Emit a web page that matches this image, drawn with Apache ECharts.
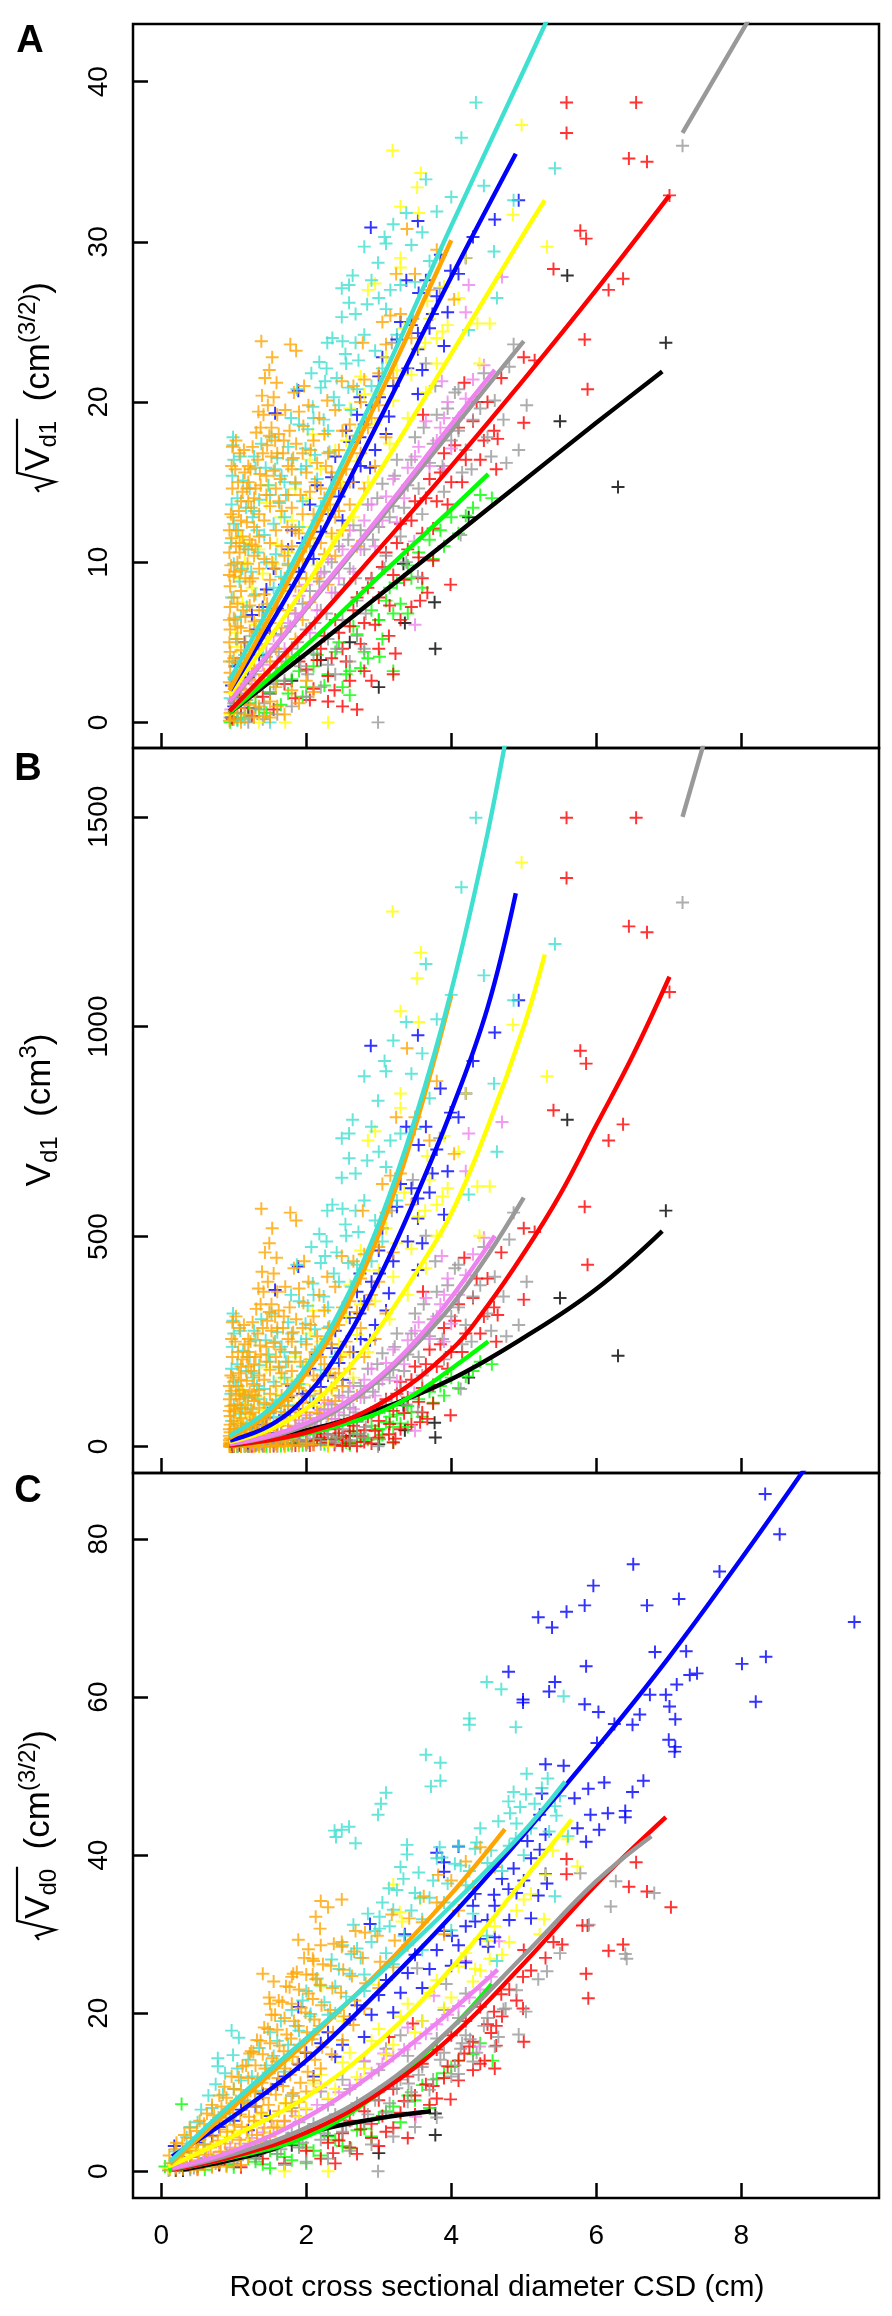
<!DOCTYPE html>
<html><head><meta charset="utf-8">
<script src="https://cdn.jsdelivr.net/npm/echarts@6/dist/echarts.min.js"></script>
<style>html,body{margin:0;padding:0;background:#fff}#c{width:892px;height:2316px}</style>
</head><body><div id="c"></div>
<script>
// ---------- tick labels ----------
const xTicks = [0, 2, 4, 6, 8];
const yTicksA = [0, 10, 20, 30, 40];
const yTicksB = [0, 500, 1000, 1500];
const yTicksC = [0, 20, 40, 60, 80];
const panelLetters = ['A', 'B', 'C'];
const xTitle = 'Root cross sectional diameter CSD (cm)';

const colors = {black:'#000000', green:'#00FF00', red:'#FF0000', gray:'#999999', gray2:'#999999',
  violet:'#EE82EE', blue:'#0000FF', yellow:'#FFFF00', turquoise:'#40E0D0', orange:'#FFA500'};

// ---------- Panel A points: [CSD, sqrt(Vd1)]  (panel B shows the same points as Vd1) ----------
const aOrange = [[1.38,23.8],[1.78,23.6],[1.86,23.2],[1.53,22.8],[1.49,22.0],[1.59,21.2],[2.78,23.7],[2.80,21.4],[2.49,21.3],[3.39,30.8],[3.24,28.0],[3.16,25.4],[4.04,26.4],[2.29,20.1],[1.47,19.8],[1.60,19.2],[1.49,17.9],[1.96,18.5],[1.82,16.5],[1.60,16.8],[1.37,14.8],[1.08,10.6],
[0.95,0.6],[0.95,1.9],[0.95,3.1],[0.95,4.4],[0.95,5.8],[0.95,7.2],[0.95,8.5],
[1.0,0.2],[1.0,1.4],[1.0,2.8],[1.0,4.0],[1.0,6.5],[1.0,7.8],[1.0,9.1],
[1.05,0.9],[1.05,2.4],[1.05,3.7],[1.05,5.2],[1.05,6.0],[1.05,7.4],[1.05,10.0],
[1.1,0.0],[1.1,1.6],[1.1,3.2],[1.1,4.5],[1.1,5.9],[1.1,8.2],[1.1,9.5],
[1.16,0.5],[1.16,2.0],[1.16,3.6],[1.16,5.0],[1.16,6.6],[1.16,9.0],[1.16,10.8],
[1.22,1.1],[1.22,2.7],[1.22,4.2],[1.22,5.7],[1.22,7.3],[1.22,8.8],[1.22,11.4],
[1.28,0.3],[1.28,1.9],[1.28,3.4],[1.28,6.3],[1.28,7.9],[1.28,10.4],[1.28,12.2],
[1.35,1.0],[1.35,2.6],[1.35,4.8],[1.35,7.0],[1.35,9.6],[1.35,11.6],[1.35,13.0],
[1.42,0.4],[1.42,3.0],[1.42,5.6],[1.42,8.0],[1.42,10.2],[1.42,12.6],
[1.5,1.3],[1.5,3.8],[1.5,6.2],[1.5,8.9],[1.5,11.2],[1.5,13.5],
[1.58,2.2],[1.58,4.6],[1.58,9.6],[1.58,12.0],[1.58,14.6],
[1.66,3.4],[1.66,5.9],[1.66,8.2],[1.66,11.0],[1.66,13.2],
[1.75,4.1],[1.75,7.0],[1.75,9.8],[1.75,14.2],[1.75,16.0],
[1.85,5.2],[1.85,8.5],[1.85,12.0],[1.85,15.0],
[1.95,6.4],[1.95,10.2],[1.95,13.0],[1.95,16.8],
[2.05,7.5],[2.05,11.5],[2.05,14.4],[2.15,9.0],[2.15,12.6],[2.15,16.2],
[2.25,10.5],[2.25,14.0],[2.25,18.0],[2.35,11.8],[2.35,15.6],[2.45,13.2],[2.45,17.0],
[2.6,15.0],[2.6,18.6],[2.75,16.8],[2.75,20.0],[2.9,19.0],[3.0,21.8],[3.1,23.6],[3.3,25.5],[3.5,28.0],[3.7,27.0],[3.8,29.5],
[1.02,9.4],[1.08,11.2],[1.12,11.6],[1.18,12.5],[1.24,13.4],[1.3,14.6],[1.36,15.5],[1.4,16.8],[1.46,17.3],[1.52,18.4],[1.25,11.1],
[0.96,9.8],[0.97,11.5],[0.99,12.8],[1.03,12.0],[1.07,13.2],[1.12,14.4],[1.15,15.6],[1.2,16.0],[1.26,17.2],[1.31,18.1],[1.34,19.4],[1.39,20.4],[1.43,21.5],[1.55,20.3],[1.62,18.0],[1.68,16.8],[1.71,19.5],[1.77,18.2],[1.83,20.6],[1.9,19.4],[1.97,21.0],[2.03,19.8],[2.1,17.6],[2.18,19.0],[2.3,16.8],[2.4,19.5],[2.5,18.2],[2.55,15.8],[2.65,21.0],[2.7,17.9],[2.85,18.4],[3.0,19.8],[3.05,25.0],[3.2,21.5],[3.45,24.0],[1.1,12.6],[1.2,13.8],[1.3,11.0],[1.45,14.2],[1.55,15.7],[1.62,13.8],[1.7,10.4],[1.8,13.4],[1.9,11.8],[2.0,9.0],[2.1,13.0],[2.2,11.2],[2.3,8.6],[2.4,10.4],[2.5,12.0],[2.6,13.6],[2.7,11.0],[2.8,14.6],[2.95,16.0],[3.1,17.8],[1.5,0.3],[1.6,1.0],[1.7,0.5],[1.8,2.0],[1.9,1.2],[2.0,2.6],[2.1,1.9],[1.2,15.0],[1.02,15.8],[1.08,16.8],[0.98,14.6],[0.96,13.0],
[0.94,0.1],[0.94,2.5],[0.94,3.8],[0.94,5.0],[0.94,6.4],[0.94,9.2],[0.94,10.6],[0.94,12.0],[0.97,16.0],[0.98,17.2],[1.03,17.6],[1.06,15.0],[1.1,13.8],[1.14,17.0],[1.18,14.6],[1.23,15.8],[1.28,14.0],[1.33,16.4],[1.37,18.4],[1.41,19.2],[1.45,15.4],[1.52,16.6],[1.57,17.6],[1.64,15.2],[1.69,17.6],[1.74,12.2],[1.8,15.8],[1.86,17.4],[1.92,14.2],[2.0,15.6],[2.06,17.0],[2.12,15.0],[2.2,14.6],[2.27,16.0],[2.33,13.6],[2.4,12.8],[2.47,14.6],[1.03,11.0],[1.13,7.0],[1.19,9.9],[1.26,9.0],[1.32,5.6],[1.39,6.4],[1.46,7.4],[1.53,10.0],[1.6,7.0],[1.7,9.0],[1.8,11.0],[1.9,9.0],[2.0,11.0]];

const aTurquoise = [[4.34,38.7],[4.14,36.5],[5.43,34.6],[4.86,32.6],[3.65,33.9],[3.20,31.1],[3.08,30.3],[3.10,29.9],[2.80,29.7],[2.99,28.7],[2.90,27.6],[4.59,29.4],[2.49,27.1],[2.59,27.3],[2.59,26.2],[2.49,25.3],[2.68,25.5],[4.63,26.5],[4.24,24.5],[2.29,23.7],[2.68,23.7],[2.54,23.0],[2.28,22.1],[2.26,21.3],[2.38,20.3],[2.09,19.7],[1.79,19.0],[0.99,17.8],[0.99,17.3],[1.09,16.6],[2.30,18.2],[1.57,15.8],[1.70,15.0],[1.28,13.2],[1.50,14.2],[1.99,17.1],[1.32,12.0],[0.97,7.8],[1.08,8.8],[1.50,0.0],[2.62,19.5],[3.05,22.1],
[0.95,1.5],[0.98,3.8],[1.03,5.2],[1.1,6.6],[1.0,9.9],[1.12,9.6],[1.2,10.8],[1.26,12.8],[1.3,8.0],[1.35,13.9],[1.42,11.7],[1.48,14.8],[1.55,12.4],[1.6,16.5],[1.66,15.4],[1.75,17.2],[1.85,14.9],[1.9,18.6],[2.0,16.0],[2.1,19.0],[2.2,20.9],[2.32,16.9],[2.45,19.8],[2.55,22.4],[2.7,20.8],[2.8,24.2],[2.95,23.2],[3.1,25.8],[3.3,27.3],[3.45,29.8],[3.6,30.6],[1.05,0.1],[1.15,0.2],[1.4,4.3],[1.65,9.1],[1.0,12.4],[1.05,14.0],[1.14,11.0],[1.22,14.6],[1.3,15.9],[1.18,7.2],[1.45,10.0],[1.7,12.8],[1.95,13.8],[2.15,15.2],
[0.96,11.2],[0.97,13.6],[0.98,15.4],[1.0,16.4],[1.02,6.4],[1.04,3.0],[1.06,12.0],[1.13,15.1],[1.17,13.4],[1.24,9.4],[1.28,16.6],[1.33,10.6],[1.38,17.4],[1.44,15.9],[1.52,17.8],[1.58,10.5],[1.63,13.7],[1.72,14.2],[1.8,16.4],[1.87,20.8],[1.93,15.8],[2.02,18.3],[2.07,21.8],[2.12,16.7],[2.18,22.5],[2.24,18.9],[2.36,24.0],[2.42,21.5],[2.5,23.8],[2.58,20.9],[2.64,27.9],[2.72,22.6],[2.84,26.1],[2.9,21.0],[3.0,26.5],[3.16,27.0],[3.25,24.2],[3.38,31.8],[3.5,27.5],[3.7,28.8],[3.8,31.9],[4.0,32.8],[4.45,33.5],[1.15,4.2],[1.25,5.4],[1.4,7.0],[1.55,8.4],[1.75,9.9],[1.9,12.2],[2.05,11.0],[2.2,13.5],[2.4,14.6]];

const aYellow = [[4.97,37.3],[3.19,35.7],[3.58,34.3],[3.53,33.4],[3.30,32.2],[3.55,31.8],[4.85,31.7],[5.32,29.7],[3.30,29.0],[3.30,28.4],[2.95,27.4],[2.85,27.0],[3.67,26.3],[3.88,24.4],[3.80,24.0],[4.36,24.9],[4.53,24.9],[4.39,22.4],[3.64,23.7],[2.75,21.6],[2.09,18.0],[1.47,14.8],[1.45,13.7],[1.09,11.6],[1.14,11.2],[1.71,0.0],[2.30,0.0],
[0.95,0.5],[1.0,2.3],[1.05,4.7],[1.12,7.5],[1.2,3.6],[1.3,6.1],[1.4,9.3],[1.5,7.0],[1.6,11.1],[1.7,8.4],[1.8,12.6],[1.9,10.1],[2.0,14.0],[2.1,11.5],[2.2,15.8],[2.3,13.2],[2.4,17.0],[2.5,14.8],[2.6,19.6],[2.7,16.3],[2.8,20.5],[2.95,18.6],[3.1,22.8],[3.2,20.1],[3.35,24.6],[3.45,21.7],[3.7,25.2],[3.9,27.2],[4.1,26.5],[4.2,29.0],[1.35,0.0],
[1.02,5.6],[1.08,9.0],[1.15,10.0],[1.25,8.4],[1.35,10.8],[1.45,5.4],[1.55,9.9],[1.65,12.8],[1.75,10.6],[1.85,14.6],[1.95,12.2],[2.05,16.4],[2.15,9.8],[2.25,18.0],[2.35,11.6],[2.45,15.6],[2.55,17.6],[2.65,12.8],[2.75,18.4],[2.85,15.0],[3.0,20.5],[3.15,17.4],[3.25,22.0],[3.4,19.0],[3.55,23.4],[3.65,20.6],[3.8,22.4],[3.95,24.8]];

const aBlue = [[2.89,30.9],[3.54,31.3],[3.38,27.6],[3.99,28.2],[3.74,25.5],[3.54,24.3],[3.90,23.5],[3.54,23.3],[4.93,32.6],[1.89,20.7],[2.74,20.3],[3.01,20.3],[3.54,20.5],[1.57,19.3],[3.14,19.1],[2.88,15.9],[2.55,18.2],[2.74,17.8],
[0.97,2.3],[1.02,3.5],[1.08,1.6],[1.15,5.0],[1.25,6.7],[1.35,4.2],[1.45,8.3],[1.6,7.1],[1.75,10.8],[1.9,9.4],[2.05,13.6],[2.2,11.9],[2.35,15.3],[2.45,14.1],[2.6,17.5],[2.75,16.0],[2.9,19.8],[3.0,21.6],[3.1,18.0],[3.25,23.9],[3.4,22.1],[3.55,26.8],[3.7,24.6],[3.85,29.2],[4.1,28.0],[4.3,30.3],[4.6,31.4],
[1.0,1.0],[1.1,4.0],[1.2,2.8],[1.3,5.8],[1.4,7.2],[1.5,5.6],[1.55,9.6],[1.7,8.6],[1.8,12.0],[1.95,11.2],[2.1,10.2],[2.15,14.8],[2.3,13.0],[2.4,16.6],[2.5,12.6],[2.65,15.0],[2.7,19.2],[2.8,18.6],[2.95,17.0],[3.05,22.8],[3.2,21.0],[3.3,25.0],[3.45,24.8],[3.6,22.0],[3.65,27.6],[3.8,26.6],[3.95,25.6],[4.2,29.0]];

const aViolet = [[4.24,27.3],[4.70,27.8],[4.20,25.6],[3.90,19.0],[3.90,15.8],[3.49,11.3],[3.50,6.1],[3.87,21.3],
[0.96,0.8],[1.05,2.0],[1.15,1.1],[1.3,3.2],[1.45,4.9],[1.6,3.8],[1.75,6.2],[1.9,7.9],[2.05,5.6],[2.2,9.3],[2.35,8.1],[2.5,10.8],[2.65,9.4],[2.8,12.6],[2.95,11.0],[3.1,14.1],[3.25,12.5],[3.4,15.9],[3.55,17.2],[3.7,16.0],[3.85,18.4],[4.0,17.1],[4.2,20.2],[4.45,22.3],
[1.1,1.8],[1.25,2.4],[1.4,3.6],[1.55,5.4],[1.7,4.6],[1.85,6.8],[2.0,8.6],[2.15,7.0],[2.3,10.2],[2.45,9.0],[2.6,12.0],[2.75,10.8],[2.9,13.6],[3.05,12.6],[3.2,15.2],[3.35,14.0],[3.5,16.6],[3.65,18.8],[3.8,17.6],[3.95,20.0],[4.1,19.0],[4.3,21.4]];

const aGray = [[4.86,23.6],[5.04,19.8],[4.72,18.9],[4.93,17.0],[4.76,16.2],[3.84,27.1],[3.47,25.2],[3.18,23.7],[3.65,22.4],[4.10,20.8],[3.78,21.0],[4.28,15.8],[4.13,11.7],[3.54,9.1],[3.38,10.0],[2.99,0.0],
[0.95,0.3],[1.0,1.2],[1.05,0.6],[1.1,2.1],[1.18,1.4],[1.25,3.0],[1.3,0.9],[1.38,2.5],[1.45,4.1],[1.5,1.8],[1.58,3.4],[1.65,5.5],[1.7,2.6],[1.8,4.6],[1.85,6.8],[1.92,3.5],[2.0,5.8],[2.05,8.2],[2.1,4.3],[2.2,7.0],[2.25,9.4],[2.3,5.2],[2.4,8.1],[2.45,11.0],[2.5,6.4],[2.6,9.6],[2.65,12.3],[2.7,7.6],[2.8,10.8],[2.85,13.6],[2.9,8.9],[3.0,12.2],[3.05,14.9],[3.1,10.4],[3.2,13.5],[3.25,16.4],[3.3,11.6],[3.4,14.8],[3.5,17.8],[3.6,13.0],[3.7,16.2],[3.8,19.2],[3.9,14.4],[4.0,17.6],[4.05,20.6],[4.15,15.6],[4.3,18.9],[4.45,21.8],[4.55,16.6],[4.6,20.1],[4.8,22.2],
[1.2,0.0],[1.4,0.2],[1.6,0.5],[1.8,1.0],[2.0,1.6],[2.2,2.2],[2.4,3.0],[2.6,3.8],[2.8,4.6],[1.5,2.9],[1.9,4.0],[2.3,3.6],[2.7,5.4],
[1.05,1.8],[1.15,2.6],[1.22,0.4],[1.32,2.0],[1.42,1.2],[1.55,2.4],[1.62,4.4],[1.72,3.8],[1.78,6.0],[1.88,5.0],[1.95,7.4],[2.02,3.0],[2.12,6.2],[2.18,8.8],[2.28,6.8],[2.35,10.0],[2.42,4.6],[2.52,8.6],[2.58,11.4],[2.68,9.0],[2.75,12.0],[2.82,6.8],[2.92,11.4],[2.98,14.0],[3.08,9.6],[3.15,12.8],[3.22,15.4],[3.35,13.4],[3.45,16.4],[3.55,14.6],[3.62,18.4],[3.75,17.4],[3.88,16.0],[3.95,19.6],[4.1,18.2],[4.2,17.0],[4.4,19.6],[4.5,17.8]];

const aGray2 = [[7.19,36.0]];

const aRed = [[5.59,38.7],[6.55,38.7],[5.59,36.8],[6.45,35.2],[6.70,35.0],[7.01,32.9],[5.78,30.7],[5.86,30.2],[5.41,28.3],[6.17,27.0],[6.37,27.7],[5.84,23.9],[5.00,22.8],[5.15,22.6],[5.88,20.8],[4.69,21.5],[5.00,18.7],[4.59,18.2],[4.64,17.7],[4.62,15.8],[4.18,21.2],[3.61,19.2],[3.99,8.6],[3.75,10.1],[3.67,8.1],[3.57,7.6],[3.23,4.3],[3.14,5.4],[2.39,2.0],
[0.98,0.2],[1.1,0.9],[1.25,0.4],[1.4,1.6],[1.55,0.8],[1.7,2.4],[1.85,1.5],[2.0,3.3],[2.1,2.1],[2.2,4.6],[2.3,2.9],[2.45,5.6],[2.55,3.8],[2.65,7.0],[2.75,4.9],[2.85,8.4],[2.95,6.1],[3.05,9.7],[3.15,7.3],[3.25,11.2],[3.35,8.9],[3.45,12.6],[3.55,10.3],[3.65,14.0],[3.75,12.1],[3.85,15.6],[3.95,13.6],[4.05,17.3],[4.15,15.0],[4.3,18.8],[4.4,16.4],[4.5,20.0],[2.3,1.3],[2.5,1.0],[2.6,2.6],[2.7,0.8],
[1.9,3.8],[2.05,1.4],[2.15,3.9],[2.25,5.4],[2.35,4.0],[2.4,6.4],[2.5,4.6],[2.6,6.0],[2.7,7.8],[2.8,6.2],[2.9,9.0],[3.0,7.8],[3.1,10.6],[3.2,9.2],[3.3,12.4],[3.4,10.8],[3.5,13.8],[3.6,11.8],[3.7,15.2],[3.8,13.8],[3.9,16.8],[4.0,15.0],[4.1,18.4],[4.2,16.4],[4.35,20.0],[4.45,17.6],[3.2,3.0],[3.0,4.6],[2.9,2.6],[2.8,3.2],[3.3,6.4],[3.45,7.2],[3.6,9.0]];

const aGreen = [[4.56,14.0],[3.20,3.2],[3.01,4.1],[3.20,6.8],[3.40,6.8],[3.00,6.4],[2.80,4.4],[2.60,3.2],[2.60,1.7],
[0.95,0.0],[1.0,0.6],[1.1,0.3],[1.2,1.2],[1.35,0.8],[1.5,1.9],[1.65,1.1],[1.8,2.7],[1.95,1.6],[2.1,3.5],[2.25,2.3],[2.4,4.4],[2.55,3.0],[2.7,5.5],[2.85,4.0],[3.0,6.4],[3.1,7.6],[3.25,8.7],[3.4,9.8],[3.55,10.6],[3.7,11.4],[3.85,12.0],[4.0,12.8],[4.3,13.4],
[1.05,0.2],[1.15,0.9],[1.3,1.6],[1.45,0.6],[1.6,2.6],[1.75,1.8],[1.9,3.2],[2.0,2.2],[2.15,4.2],[2.3,3.0],[2.45,5.0],[2.5,2.2],[2.65,6.0],[2.75,3.4],[2.9,7.0],[3.05,5.2],[3.15,8.4],[3.3,7.4],[3.45,9.0],[3.6,8.4],[3.75,10.2],[3.9,11.0],[4.1,11.8],[4.2,12.9],[4.4,14.2]];

const aBlack = [[5.60,27.9],[6.96,23.7],[5.50,18.8],[6.30,14.7],[4.24,12.8],[3.77,7.5],[3.36,6.2],[3.78,4.6],[3.00,2.2],[3.34,9.9],[0.97,0.3],[1.2,0.9],[1.5,1.8],[1.8,2.6],[2.2,3.9],[2.6,5.0]];

// ---------- Panel A fitted curves ----------
const aLineTurquoise = [[0.94,2.6],[2,11.6],[3,21],[4,31],[5,40.7],[5.5,45.6]];
const aLineOrange = [[0.94,2.0],[2,11],[3,20.3],[4,30.1]];
const aLineBlue = [[0.95,2.0],[2,10],[3,18.8],[4,27.8],[4.89,35.5]];
const aLineYellow = [[0.94,1.7],[2,8.6],[3,15.6],[4,23],[5,30.5],[5.29,32.6]];
const aLineViolet = [[0.94,1.3],[2,7.2],[3,12.8],[4,18.6],[4.6,22]];
const aLineGray = [[0.94,1.2],[2,7.1],[3,12.6],[4,18.2],[5,23.8]];
const aLineGray2 = [[7.19,36.8],[8.25,45.0]];
const aLineRed = [[0.94,0.7],[2,5.7],[3,10.8],[4,16],[5,21.4],[6,27],[7.01,32.9]];
const aLineGreen = [[0.94,0.6],[2,4.8],[3,9.1],[4,13.3],[4.51,15.5]];
const aLineBlack = [[0.94,0.6],[2,4.3],[3,7.9],[4,11.5],[5,15.1],[6,18.7],[6.91,21.9]];

// ---------- Panel B fitted curves (Vd1) ----------
const bLineTurquoise = [[0.94,25],[1.5,90],[2,190],[2.5,335],[3,530],[3.5,780],[4,1085],[4.5,1460],[4.85,1780]];
const bLineOrange = [[0.94,20],[1.5,80],[2,175],[2.5,315],[3,505],[3.5,760],[4,1075]];
const bLineBlue = [[0.95,14],[1.5,50],[2,120],[2.5,240],[3,400],[3.5,590],[4,800],[4.5,1045],[4.89,1318]];
const bLineYellow = [[0.94,10],[1.5,40],[2,90],[2.5,170],[3,280],[3.5,410],[4,555],[4.5,760],[5,1000],[5.29,1172]];
const bLineViolet = [[0.94,6],[1.5,25],[2,55],[2.5,100],[3,165],[3.5,250],[4,355],[4.6,502]];
const bLineGray = [[0.94,5],[1.5,23],[2,50],[2.5,95],[3,158],[3.5,240],[4,335],[4.5,455],[5,593]];
const bLineGray2 = [[7.19,1500],[7.55,1715]];
const bLineRed = [[0.94,2],[2,33],[3,100],[4,230],[4.5,335],[5,460],[5.5,600],[6,765],[6.5,930],[7.01,1119]];
const bLineGreen = [[0.94,1],[2,30],[2.5,52],[3,80],[3.5,125],[4,185],[4.51,250]];
const bLineBlack = [[0.94,2],[2,38],[3,88],[4,160],[5,259],[6,375],[6.91,513]];

// ---------- Panel C points: [CSD, sqrt(Vd0)] ----------
const cOrange = [[2.20,34.2],[2.30,33.4],[2.49,34.4],[2.13,32.2],[2.19,30.7],[2.68,30.4],[1.89,29.3],[2.03,28.1],[2.09,26.9],[2.49,29.0],[1.40,25.0],[1.55,24.0],[1.80,24.6],[2.09,24.9],[1.50,21.2],[1.24,15.2],
[0.12,0.2],[0.13,1.0],[0.11,2.0],[0.2,0.4],[0.22,1.5],[0.19,2.8],[0.21,3.6],
[0.3,0.3],[0.28,1.2],[0.31,2.4],[0.29,3.5],[0.32,4.6],[0.4,0.6],[0.42,1.8],[0.38,3.0],[0.41,4.2],[0.39,5.5],
[0.5,0.2],[0.52,1.4],[0.48,2.6],[0.51,3.9],[0.49,5.1],[0.53,6.4],[0.6,0.8],[0.62,2.1],[0.58,3.4],[0.61,4.7],[0.59,6.0],[0.63,7.3],
[0.7,0.5],[0.72,1.7],[0.68,3.0],[0.71,4.4],[0.69,5.8],[0.73,7.1],[0.7,8.4],
[0.8,1.1],[0.82,2.5],[0.78,3.9],[0.81,5.3],[0.79,6.8],[0.83,8.2],[0.8,9.6],
[0.9,0.6],[0.92,2.0],[0.88,3.5],[0.91,5.0],[0.89,6.4],[0.93,7.9],[0.9,9.3],[0.87,10.7],
[1.0,1.3],[1.02,2.8],[0.98,4.3],[1.01,5.9],[0.99,7.4],[1.03,8.9],[1.0,10.4],[0.97,12.0],
[1.1,0.8],[1.12,2.4],[1.08,4.0],[1.11,5.6],[1.09,7.2],[1.13,8.8],[1.1,10.3],[1.07,11.9],[1.12,13.3],
[1.2,1.8],[1.22,3.5],[1.18,5.2],[1.21,6.9],[1.19,8.6],[1.23,10.2],[1.2,11.8],[1.17,13.4],[1.22,14.9],
[1.3,2.8],[1.32,4.6],[1.28,6.4],[1.31,8.2],[1.29,10.0],[1.33,11.7],[1.3,13.4],[1.27,15.1],[1.32,16.6],
[1.4,3.6],[1.42,5.5],[1.38,7.4],[1.41,9.3],[1.39,11.2],[1.43,13.0],[1.4,14.8],[1.37,16.5],[1.42,18.2],
[1.5,4.4],[1.52,6.4],[1.48,8.4],[1.51,10.4],[1.49,12.4],[1.53,14.3],[1.5,16.2],[1.47,18.0],[1.52,19.8],[1.49,22.0],
[1.6,5.5],[1.62,7.6],[1.58,9.7],[1.61,11.8],[1.59,13.9],[1.63,15.9],[1.6,17.9],[1.57,19.8],[1.62,21.6],
[1.7,6.4],[1.72,8.6],[1.68,10.8],[1.71,13.0],[1.69,15.2],[1.73,17.3],[1.7,19.4],[1.67,21.4],[1.72,23.4],
[1.8,7.6],[1.82,9.9],[1.78,12.2],[1.81,14.5],[1.79,16.8],[1.83,19.0],[1.8,21.2],[1.77,23.3],[1.82,25.0],
[1.9,8.8],[1.92,11.2],[1.88,13.6],[1.91,16.0],[1.89,18.4],[1.93,20.7],[1.9,23.0],[1.87,25.2],
[2.0,10.1],[2.02,12.6],[1.98,15.1],[2.01,17.6],[1.99,20.1],[2.03,22.5],[2.0,24.9],[1.97,27.0],
[2.1,11.5],[2.12,14.1],[2.08,16.7],[2.11,19.2],[2.09,21.8],[2.13,24.3],[2.1,26.6],
[2.2,13.0],[2.22,15.7],[2.18,18.4],[2.21,21.0],[2.19,23.6],[2.23,26.2],[2.2,28.6],
[2.35,14.8],[2.37,17.6],[2.33,20.4],[2.36,23.2],[2.34,26.0],[2.38,28.8],
[2.5,16.6],[2.52,19.6],[2.48,22.6],[2.51,25.5],[2.49,28.4],[2.65,18.5],[2.67,21.6],[2.63,24.7],[2.66,27.8],
[2.8,20.6],[2.82,23.8],[2.78,27.0],[2.81,30.2],[3.0,23.2],[3.02,26.5],[2.98,29.8],[3.2,25.8],[3.22,29.2],[3.18,32.5],
[3.4,28.6],[3.42,32.0],[3.6,31.5],[3.62,34.8],[3.8,34.0],[3.82,37.5],[4.0,36.8],[4.2,39.2],[4.4,41.0],[4.6,38.5],[4.1,33.0],[3.9,30.0],[4.3,36.0]];

const cTurquoise = [[4.49,61.9],[4.69,61.0],[5.55,60.1],[4.25,57.3],[4.25,56.5],[4.89,56.2],[3.65,52.7],[3.85,51.7],[3.85,49.4],[3.72,48.7],[3.10,47.9],[3.03,46.5],[2.99,45.1],[2.59,43.6],[2.49,43.2],[2.39,43.1],[2.41,42.3],[2.68,41.5],[5.04,50.3],[5.33,49.7],[4.86,48.0],[5.03,47.7],[4.79,46.8],[4.81,45.3],[5.43,46.2],[5.61,42.4],[5.43,34.8],[4.89,42.1],[3.39,41.3],[3.39,40.1],[3.84,41.0],[3.87,39.7],[4.13,38.7],[4.33,40.8],[3.34,37.0],[3.14,35.8],[3.57,34.6],[3.01,32.2],[3.01,30.7],[0.97,17.8],[1.07,16.9],[0.78,14.3],[0.78,13.3],[0.99,14.7],[2.06,19.9],[4.49,29.8],[4.63,26.6],[2.62,27.5],
[0.12,1.0],[0.2,2.5],[0.35,4.3],[0.5,6.2],[0.6,3.4],[0.7,8.0],[0.85,9.7],[0.95,6.8],[1.1,11.5],[1.2,14.1],[1.3,10.2],[1.45,13.4],[1.6,16.5],[1.7,12.6],[1.85,18.4],[1.95,21.6],[2.1,17.3],[2.2,23.5],[2.3,19.8],[2.45,25.6],[2.55,22.1],[2.7,28.2],[2.8,24.9],[2.95,30.4],[3.1,27.6],[3.2,33.1],[3.35,29.8],[3.5,35.2],[3.6,31.9],[3.75,36.8],[3.9,34.0],[4.05,38.9],[4.2,36.2],[4.35,41.6],[4.5,39.0],[4.65,44.3],[4.8,41.2],[4.95,46.1],[5.1,43.4],[5.25,48.5],[5.45,45.0],
[0.4,5.6],[0.55,7.8],[0.65,9.6],[0.75,11.0],[0.88,12.4],[1.0,10.4],[1.05,13.0],[1.15,9.0],[1.25,12.0],[1.35,15.6],[1.4,11.8],[1.5,17.6],[1.55,14.6],[1.65,19.0],[1.75,16.0],[1.8,20.4],[1.9,17.8],[2.0,22.8],[2.05,19.6],[2.15,24.4],[2.25,21.4],[2.35,26.8],[2.4,23.4],[2.5,28.6],[2.6,25.0],[2.65,31.2],[2.75,27.0],[2.85,32.6],[2.9,29.0],[3.05,34.0],[3.15,31.0],[3.25,35.6],[3.3,38.5],[3.45,33.0],[3.55,37.8],[3.7,34.6],[3.8,39.6],[3.95,36.4],[4.1,41.2],[4.25,38.0],[4.4,43.4],[4.55,40.6],[4.7,38.0],[4.9,44.0],[5.0,40.0],[5.15,46.5],[5.35,43.0],[5.5,47.5],[4.3,32.6],[4.0,30.5],[3.6,28.0],[3.2,26.2],[2.8,22.8],[2.4,20.0]];

const cBlue = [[8.33,85.7],[8.53,80.6],[9.56,69.5],[6.51,76.8],[7.70,75.9],[5.96,74.1],[5.84,71.6],[5.59,70.8],[5.20,70.1],[5.39,68.8],[6.70,71.6],[7.14,72.4],[6.81,65.7],[7.24,65.8],[8.01,64.2],[8.34,65.1],[8.20,59.4],[4.79,63.2],[5.86,63.9],[5.43,61.9],[5.35,60.7],[4.99,59.7],[4.99,59.3],[5.84,59.1],[6.03,58.1],[6.74,60.3],[6.96,60.3],[7.11,61.6],[7.01,58.8],[7.09,57.2],[7.29,62.8],[7.39,63.0],[6.60,57.8],[6.25,56.6],[6.50,56.5],[6.01,54.2],[7.00,54.6],[7.09,53.7],[7.08,53.1],[5.30,51.5],[5.55,51.3],[6.65,49.4],[6.50,48.0],[6.11,49.2],[5.89,48.4],[5.70,47.2],[5.25,47.8],[5.92,45.1],[6.16,45.3],[6.40,45.6],[6.40,44.8],[6.04,43.2],[5.86,41.7],[5.74,43.4],[5.22,45.1],[5.05,41.8],[5.22,40.7],[5.30,37.6],[5.32,36.4],[4.86,38.3],[4.79,35.7],[4.10,41.1],[3.80,40.3],[3.90,39.1],[3.90,37.9],[4.33,35.1],[4.59,35.0],[4.33,31.6],[4.01,29.8],[2.88,31.3],[3.36,30.0],[1.89,20.8],[4.51,28.4],
[0.18,3.2],[0.4,1.8],[0.7,4.5],[1.0,6.4],[1.3,8.2],[1.6,11.0],[1.9,13.5],[2.2,16.2],[2.4,14.5],[2.6,19.2],[2.8,17.0],[3.0,22.3],[3.2,20.1],[3.4,25.1],[3.6,23.2],[3.8,28.0],[4.0,26.0],[4.2,31.0],[4.4,29.4],[4.6,33.6],[4.8,31.8],[5.0,36.8],[5.2,34.9],
[0.3,2.4],[0.5,3.6],[0.8,5.6],[1.1,7.8],[1.2,5.2],[1.4,9.8],[1.5,7.0],[1.7,12.0],[1.8,9.6],[2.0,15.0],[2.1,12.0],[2.3,17.6],[2.5,16.0],[2.7,21.0],[2.9,19.8],[3.1,24.2],[3.3,22.6],[3.5,27.4],[3.7,25.6],[3.9,30.4],[4.1,28.6],[4.3,33.6],[4.5,31.8],[4.7,37.0],[4.9,35.2],[5.1,39.6],[5.3,42.6],[5.1,32.0],[4.6,29.6],[4.2,26.4]];

const cYellow = [[3.20,36.3],[3.57,34.5],[3.29,32.8],[3.32,31.6],[5.28,31.9],[5.22,30.0],[5.74,38.6],[4.53,26.9],[4.33,25.6],[1.70,0.0],[2.30,0.0],[2.21,23.4],
[0.1,0.4],[0.3,1.5],[0.5,2.8],[0.7,1.2],[0.9,4.4],[1.1,3.0],[1.3,6.3],[1.5,4.8],[1.7,8.6],[1.9,6.9],[2.1,11.1],[2.3,9.2],[2.5,13.8],[2.7,11.9],[2.9,16.5],[3.1,14.8],[3.3,19.6],[3.5,17.6],[3.7,22.6],[3.9,20.7],[4.1,25.9],[4.3,24.0],[4.5,29.2],[4.7,27.4],[4.9,33.0],[5.1,35.1],[5.4,40.6],
[0.2,1.0],[0.4,2.2],[0.6,3.4],[0.8,2.0],[1.0,5.2],[1.2,4.0],[1.4,7.2],[1.6,5.8],[1.8,9.6],[2.0,8.0],[2.2,12.2],[2.4,10.4],[2.6,15.0],[2.8,13.0],[3.0,18.0],[3.2,16.0],[3.4,21.2],[3.6,19.0],[3.8,24.2],[4.0,22.0],[4.2,27.6],[4.4,25.4],[4.6,31.0],[4.8,29.0],[5.0,34.4],[5.3,37.5],[5.6,42.0],[2.5,19.0],[3.0,23.6],[1.7,14.0]];

const cViolet = [[4.66,29.1],[4.20,26.6],[4.39,15.8],[3.51,6.9],[3.76,22.2],[3.07,14.9],
[0.2,0.5],[0.5,1.2],[0.8,2.4],[1.1,3.5],[1.4,4.9],[1.7,6.3],[2.0,7.8],[2.3,9.1],[2.6,10.9],[2.9,12.4],[3.2,14.6],[3.5,16.2],[3.8,18.6],[4.1,20.9],[4.4,23.0],
[0.35,0.9],[0.65,1.8],[0.95,3.0],[1.25,4.2],[1.55,5.6],[1.85,7.0],[2.15,8.4],[2.45,10.0],[2.75,11.6],[3.05,13.6],[3.35,15.4],[3.65,17.4],[3.95,19.8],[4.25,22.0],[4.55,24.6],[2.2,10.6],[2.8,14.0],[3.4,18.2]];

const cGray = [[6.80,35.2],[6.40,27.5],[6.42,26.9],[5.78,37.7],[6.27,36.7],[5.32,25.3],[5.03,20.2],[4.93,17.3],[4.72,20.5],[4.26,16.7],[4.13,15.5],[4.10,12.3],[3.93,23.7],[3.53,25.7],[3.41,11.1],[2.99,0.0],
[0.1,0.1],[0.25,0.5],[0.4,0.2],[0.55,1.0],[0.7,0.6],[0.85,1.6],[1.0,1.0],[1.15,2.4],[1.3,1.6],[1.45,3.2],[1.6,2.2],[1.75,4.2],[1.9,3.0],[2.05,5.3],[2.2,4.0],[2.35,6.5],[2.5,5.0],[2.65,7.8],[2.8,6.1],[2.95,9.0],[3.1,7.4],[3.25,10.5],[3.4,8.8],[3.55,12.2],[3.7,10.3],[3.85,14.1],[4.0,12.0],[4.15,16.2],[4.3,13.9],[4.45,18.4],[4.6,15.8],[4.75,20.6],[4.9,22.9],[5.2,24.3],[5.5,27.6],[5.9,31.2],[6.2,33.5],
[1.8,8.0],[2.2,10.1],[2.5,11.6],[2.8,13.9],[3.1,15.5],[3.3,17.2],[3.6,19.0],[3.9,20.4],[4.2,22.5],
[0.3,1.0],[0.45,0.4],[0.6,1.6],[0.75,1.0],[0.9,2.2],[1.05,1.4],[1.2,3.0],[1.35,2.2],[1.5,3.8],[1.65,2.8],[1.8,4.8],[1.95,3.6],[2.1,6.0],[2.25,4.8],[2.4,7.2],[2.55,5.8],[2.7,8.6],[2.85,7.2],[3.0,10.0],[3.15,8.6],[3.3,11.6],[3.45,10.0],[3.6,13.2],[3.75,11.6],[3.9,15.0],[4.05,13.4],[4.2,17.2],[4.35,15.0],[4.5,19.4],[4.65,17.0],[2.6,2.6],[2.9,3.4],[3.2,4.4],[3.5,5.6],[3.8,6.8],[2.3,1.6],[2.0,1.2],[1.7,0.8],[3.0,12.8],[3.4,14.6],[3.8,16.8],[4.1,19.4],[2.6,10.4],[2.3,8.4],[1.9,6.2]];

const cRed = [[6.55,39.1],[6.45,36.0],[6.70,35.4],[7.03,33.4],[5.59,39.5],[5.59,37.6],[5.41,29.0],[5.53,28.7],[5.81,31.1],[5.88,31.1],[6.17,27.9],[6.37,28.7],[5.86,25.0],[5.89,21.9],[5.00,28.0],[4.99,24.6],[4.99,20.6],[4.69,22.4],[4.59,20.2],[4.62,18.4],[4.62,15.9],[4.46,14.0],[4.30,12.8],[4.18,14.9],[3.99,9.1],[3.75,10.8],[3.47,18.7],[2.37,2.3],[3.14,17.0],
[0.2,0.1],[0.5,0.3],[0.8,0.9],[1.1,0.5],[1.4,1.6],[1.7,1.0],[2.0,2.6],[2.2,1.6],[2.45,3.9],[2.6,3.0],[2.75,5.3],[2.9,4.2],[3.05,7.0],[3.2,5.5],[3.35,8.9],[3.5,7.2],[3.65,11.0],[3.8,9.2],[3.95,13.3],[4.1,11.5],[4.25,15.8],[4.4,13.6],[4.55,17.5],
[2.3,3.6],[2.5,4.8],[2.6,6.4],[2.8,7.6],[2.9,6.0],[3.0,9.0],[3.1,5.0],[3.2,10.4],[3.3,7.4],[3.4,12.0],[3.5,9.6],[3.6,13.6],[3.7,8.4],[3.8,15.4],[3.9,11.8],[4.0,17.2],[4.1,14.0],[4.2,19.0],[4.3,16.4],[4.4,20.8],[4.5,18.6],[4.7,19.6],[4.8,23.0],[4.9,21.6],[5.1,25.4],[5.3,27.0],[5.0,16.4],[4.6,13.0],[3.4,4.2],[3.0,3.2],[2.7,2.2],[2.4,1.0]];

const cGreen = [[0.05,0.6],[0.2,0.1],[0.28,8.5],[0.4,0.4],[0.6,0.2],[0.8,1.0],[1.0,0.5],[1.2,1.6],[1.4,0.9],[1.6,2.2],[1.8,1.4],[2.0,3.0],[2.2,2.0],[2.4,4.0],[2.62,2.9],[2.8,5.4],[3.0,6.8],[3.2,8.2],[3.4,9.6],[3.6,10.9],[3.8,11.7],[4.0,13.2],[4.3,14.8],[4.57,14.0],
[0.3,0.8],[0.5,0.6],[0.7,1.4],[0.9,0.8],[1.1,2.0],[1.3,1.2],[1.5,2.6],[1.7,1.8],[1.9,3.4],[2.1,2.6],[2.3,4.4],[2.5,3.2],[2.7,5.2],[2.9,4.4],[3.1,7.6],[3.3,6.2],[3.5,9.0],[3.7,8.0],[3.9,12.4],[4.1,14.0],[4.4,16.2],[2.0,1.0],[1.5,0.4]];

const cBlack = [[0.3,0.1],[0.8,0.8],[1.3,1.9],[1.8,3.3],[2.3,4.5],[3.0,2.3],[3.78,7.3],[3.78,4.6]];

// ---------- Panel C fitted curves ----------
const cLineBlue = [[0.15,1.9],[1,7.0],[2,14.0],[3,22.8],[4,32.3],[5,42.6],[6,53.5],[7,65.0],[8,77.5],[8.84,88.4],[9.0,90.6]];
const cLineTurquoise = [[0.12,1.2],[1,8.8],[2,16.8],[3,24.9],[4,33.6],[5,43.0],[5.57,49.3]];
const cLineOrange = [[0.12,0.9],[1,8.2],[2,16.4],[3,25.2],[4,35.1],[4.74,43.3]];
const cLineYellow = [[0.1,0.6],[1,4.5],[2,9.4],[3,16.4],[4,25.7],[5,36.9],[5.66,44.5]];
const cLineViolet = [[0.15,0.4],[1,2.6],[2,6.8],[3,12.9],[4,20.3],[4.64,25.5]];
const cLineGray = [[0.15,0.3],[1,2.2],[2,5.5],[3,10.5],[4,18.1],[5,27.3],[6,36.7],[6.76,42.4]];
const cLineRed = [[0.15,0.2],[1,1.9],[2,4.9],[3,9.9],[4,17.0],[5,26.3],[6,36.3],[6.96,44.8]];
const cLineGreen = [[0.1,0.1],[1,1.8],[2,4.4],[3,9.9],[4,18.1],[4.56,23.7]];
const cLineBlack = [[0.3,0.2],[1,1.5],[1.57,2.9],[2.09,5.0],[3,6.7],[3.72,7.6]];

// ---------- build ----------
const sq = d => d.map(p => [p[0], p[1] * p[1]]);
const pointsA = {black:aBlack, green:aGreen, red:aRed, gray:aGray, gray2:aGray2, violet:aViolet, blue:aBlue, yellow:aYellow, turquoise:aTurquoise, orange:aOrange};
const pointsC = {black:cBlack, green:cGreen, red:cRed, gray:cGray, violet:cViolet, blue:cBlue, yellow:cYellow, turquoise:cTurquoise, orange:cOrange};
const linesA = {black:aLineBlack, green:aLineGreen, red:aLineRed, gray:aLineGray, gray2:aLineGray2, violet:aLineViolet, yellow:aLineYellow, blue:aLineBlue, orange:aLineOrange, turquoise:aLineTurquoise};
const linesB = {black:bLineBlack, green:bLineGreen, red:bLineRed, gray:bLineGray, gray2:bLineGray2, violet:bLineViolet, yellow:bLineYellow, blue:bLineBlue, orange:bLineOrange, turquoise:bLineTurquoise};
const linesC = {black:cLineBlack, green:cLineGreen, red:cLineRed, gray:cLineGray, violet:cLineViolet, yellow:cLineYellow, blue:cLineBlue, orange:cLineOrange, turquoise:cLineTurquoise};

const PLUS = 'path://M-1,-0.15H-0.15V-1H0.15V-0.15H1V0.15H0.15V1H-0.15V0.15H-1Z';
const FONT = '"Liberation Sans", Arial, Helvetica, sans-serif';
const series = [];
function addPoints(obj, idx, tf) {
  Object.keys(obj).forEach(k => {
    series.push({type:'scatter', xAxisIndex:idx, yAxisIndex:idx, data: tf ? tf(obj[k]) : obj[k],
      symbol: PLUS, symbolSize: 13, itemStyle:{color: colors[k]}, z:2, silent:true, animation:false, clip:true, large:false});
  });
}
function addLines(obj, idx) {
  Object.keys(obj).forEach(k => {
    series.push({type:'line', xAxisIndex:idx, yAxisIndex:idx, data: obj[k], smooth:0.4, showSymbol:false,
      lineStyle:{color: colors[k], width: 4.4}, z:3, silent:true, animation:false, clip:true});
  });
}
addPoints(pointsA, 0); addPoints(pointsA, 1, sq); addPoints(pointsC, 2);
addLines(linesA, 0); addLines(linesB, 1); addLines(linesC, 2);

const grids = [
  {left:133, top:24, width:746, height:724},
  {left:133, top:748, width:746, height:725},
  {left:133, top:1473, width:746, height:725}
].map(g => Object.assign(g, {show:true, borderColor:'#000', borderWidth:2.5, backgroundColor:'transparent', containLabel:false}));

const tickStyle = {show:true, inside:true, length:15, lineStyle:{color:'#000', width:2.5}};
const xAxes = [0,1,2].map(i => ({type:'value', gridIndex:i, min:-0.39, max:9.9, position:'bottom',
  axisLine:{show:false, onZero:false}, splitLine:{show:false},
  axisTick:Object.assign({customValues:xTicks}, tickStyle),
  axisLabel:{show: i === 2, customValues:xTicks, formatter: v => String(v), color:'#000', fontSize:28, fontFamily:FONT, margin:24}}));
const yRanges = [[-1.6,43.6,yTicksA],[-63.4,1664,yTicksB],[-3.38,88.35,yTicksC]];
const yAxes = yRanges.map((r,i) => ({type:'value', gridIndex:i, min:r[0], max:r[1], position:'left',
  axisLine:{show:false, onZero:false}, splitLine:{show:false},
  axisTick:Object.assign({customValues:r[2]}, tickStyle),
  axisLabel:{customValues:r[2], formatter: v => String(v), rotate:90, color:'#000', fontSize:28, fontFamily:FONT, margin:20}}));

// ---------- titles (graphic) ----------
const cnv = document.createElement('canvas').getContext('2d');
function tw(t, size) { cnv.font = size + 'px ' + FONT; return cnv.measureText(t).width; }
function yTitle(sub, sup, root, cy, bx) {
  const F = 35, f = 24;
  const kids = [];
  let u = root ? 21 : 0;
  const add = (t, size, v) => { kids.push({type:'text', x:u, y:v, style:{text:t, font: size + 'px ' + FONT, fill:'#000', textAlign:'left', textVerticalAlign:'middle', verticalAlign:'middle'}}); u += tw(t, size); };
  add('V', F, -12.5);
  add(sub, f, -3);
  const rEnd = u + 2;
  add('  (cm', F, -12.5);
  add(sup, f, -24);
  add(')', F, -12.5);
  if (root) kids.push({type:'polyline', shape:{points:[[0,-13],[4,-16],[10,3],[19,-35],[rEnd,-35]]}, style:{stroke:'#000', lineWidth:2.2, fill:null, lineJoin:'miter'}});
  const L = u;
  return {type:'group', x:bx, y:cy + L/2, rotation:Math.PI/2, children:kids, silent:true};
}
const graphic = [
  {type:'text', x:30, y:42, style:{text:panelLetters[0], font:'bold 38px ' + FONT, fill:'#000', textAlign:'center', textVerticalAlign:'middle', verticalAlign:'middle'}},
  {type:'text', x:28, y:770, style:{text:panelLetters[1], font:'bold 38px ' + FONT, fill:'#000', textAlign:'center', textVerticalAlign:'middle', verticalAlign:'middle'}},
  {type:'text', x:28, y:1492, style:{text:panelLetters[2], font:'bold 38px ' + FONT, fill:'#000', textAlign:'center', textVerticalAlign:'middle', verticalAlign:'middle'}},
  {type:'text', x:497, y:2288, style:{text:xTitle, font:'30px ' + FONT, fill:'#000', textAlign:'center', textVerticalAlign:'middle', verticalAlign:'middle'}},
  yTitle('d1', '(3/2)', true, 387, 52),
  yTitle('d1', '3', false, 1110, 53),
  yTitle('d0', '(3/2)', true, 1835, 52)
];

const chart = echarts.init(document.getElementById('c'), null, {renderer:'canvas'});
chart.setOption({animation:false, backgroundColor:'#fff', grid:grids, xAxis:xAxes, yAxis:yAxes, series:series, graphic:graphic});
</script></body></html>
